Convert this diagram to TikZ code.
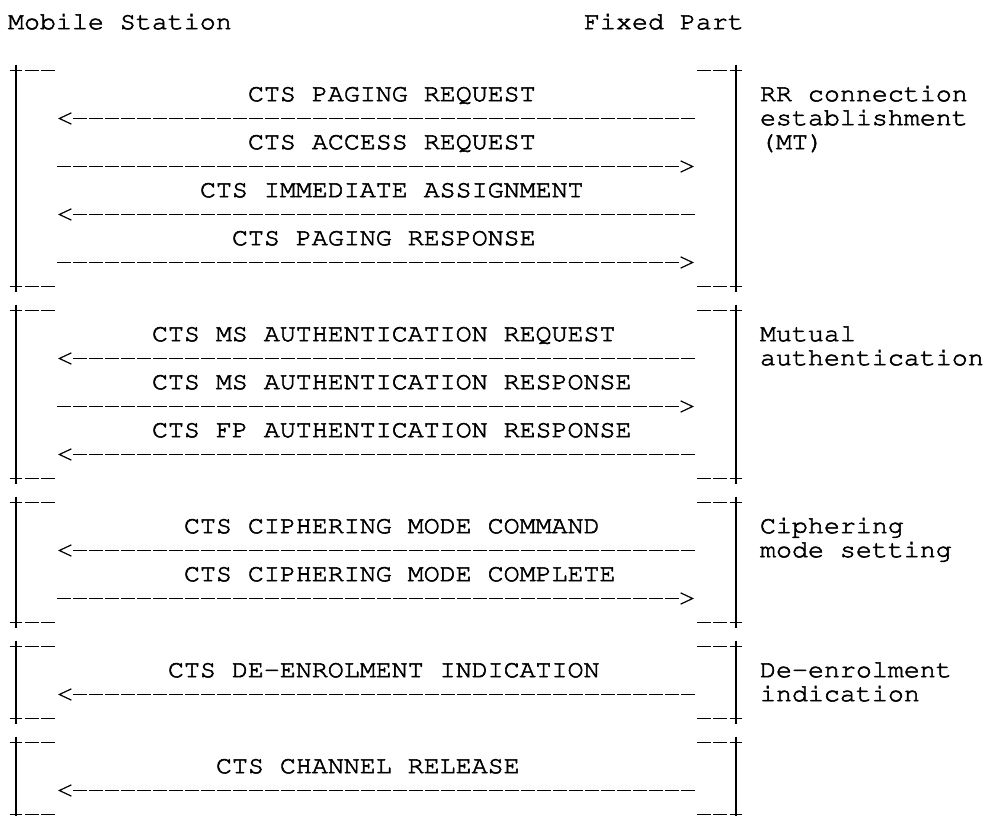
\documentclass[tikz,border=0pt]{standalone}
\usepackage[T1]{fontenc}
\usepackage{courier}
\usepackage{graphicx}
\usetikzlibrary{arrows.meta,decorations.markings}
\newcommand{\mono}[1]{\special{pdf:literal direct q 2 Tr 0.4 w}%
  \scalebox{1.08}[1]{\fontsize{18.5}{22}\selectfont\ttfamily #1}%
  \special{pdf:literal direct Q}}
\newcommand{\sidebars}[2]{%
  \draw[bar] (0.1,#1) -- (0.9,#1) (0.1,#2) -- (0.9,#2) (0.5,#1-0.24) -- (0.5,#2+0.24);
  \draw[dashbar] (1,#1) -- (3,#1) (1,#2) -- (3,#2);
  \draw[bar] (45.1,#1) -- (45.9,#1) (45.1,#2) -- (45.9,#2) (45.5,#1-0.24) -- (45.5,#2+0.24);
  \draw[dashbar] (43,#1) -- (45,#1) (43,#2) -- (45,#2);}

\begin{document}
\begin{tikzpicture}[x=12pt,y=-18pt,
    lbl/.style={anchor=base west,inner sep=0pt,outer sep=0pt},
    bar/.style={line width=1.25pt},
    dashbar/.style={line width=1.35pt,dash pattern=on 10.5pt off 1.5pt,dash phase=11.25pt},
    msg/.style={dashbar,shorten >=11pt,postaction={decorate,decoration={markings,
      mark=at position 1 with {\arrow[line width=0.9pt]{Straight Barb[length=9pt,width=8.5pt]}}}}}]
  \useasboundingbox (-0.5,0.0625) rectangle (61.25,34.0625);
  % headings
  \node[lbl] (ms) at (0,1.28) {\mono{Mobile Station}};
  \node[lbl] (fp) at (36,1.28) {\mono{Fixed Part}};
  % RR connection establishment
  \sidebars{3}{12}
  \node[lbl] (pagreq) at (15,4.28) {\mono{CTS PAGING REQUEST}};
  \coordinate (ms5) at (3.125,5); \coordinate (fp5) at (43,5);
  \draw[msg] (fp5) -- (ms5);
  \node[lbl] (accreq) at (15,6.28) {\mono{CTS ACCESS REQUEST}};
  \coordinate (ms7) at (3,7); \coordinate (fp7) at (42.875,7);
  \draw[msg] (ms7) -- (fp7);
  \node[lbl] (immass) at (12,8.28) {\mono{CTS IMMEDIATE ASSIGNMENT}};
  \coordinate (ms9) at (3.125,9); \coordinate (fp9) at (43,9);
  \draw[msg] (fp9) -- (ms9);
  \node[lbl] (pagresp) at (14,10.28) {\mono{CTS PAGING RESPONSE}};
  \coordinate (ms11) at (3,11); \coordinate (fp11) at (42.875,11);
  \draw[msg] (ms11) -- (fp11);
  \node[lbl] (rr1) at (47,4.28) {\mono{RR connection}};
  \node[lbl] (rr2) at (47,5.28) {\mono{establishment}};
  \node[lbl] (rr3) at (47,6.28) {\mono{(MT)}};
  % mutual authentication
  \sidebars{13}{20}
  \node[lbl] (authreq) at (9,14.28) {\mono{CTS MS AUTHENTICATION REQUEST}};
  \coordinate (ms15) at (3.125,15); \coordinate (fp15) at (43,15);
  \draw[msg] (fp15) -- (ms15);
  \node[lbl] (authresp) at (9,16.28) {\mono{CTS MS AUTHENTICATION RESPONSE}};
  \coordinate (ms17) at (3,17); \coordinate (fp17) at (42.875,17);
  \draw[msg] (ms17) -- (fp17);
  \node[lbl] (fpauth) at (9,18.28) {\mono{CTS FP AUTHENTICATION RESPONSE}};
  \coordinate (ms19) at (3.125,19); \coordinate (fp19) at (43,19);
  \draw[msg] (fp19) -- (ms19);
  \node[lbl] (mut1) at (47,14.28) {\mono{Mutual}};
  \node[lbl] (mut2) at (47,15.28) {\mono{authentication}};
  % ciphering mode setting
  \sidebars{21}{26}
  \node[lbl] (ciphcmd) at (11,22.28) {\mono{CTS CIPHERING MODE COMMAND}};
  \coordinate (ms23) at (3.125,23); \coordinate (fp23) at (43,23);
  \draw[msg] (fp23) -- (ms23);
  \node[lbl] (ciphcmp) at (11,24.28) {\mono{CTS CIPHERING MODE COMPLETE}};
  \coordinate (ms25) at (3,25); \coordinate (fp25) at (42.875,25);
  \draw[msg] (ms25) -- (fp25);
  \node[lbl] (ciph1) at (47,22.28) {\mono{Ciphering}};
  \node[lbl] (ciph2) at (47,23.28) {\mono{mode setting}};
  % de-enrolment indication
  \sidebars{27}{30}
  \node[lbl] (deenrol) at (10,28.28) {\mono{CTS DE-ENROLMENT INDICATION}};
  \coordinate (ms29) at (3.125,29); \coordinate (fp29) at (43,29);
  \draw[msg] (fp29) -- (ms29);
  \node[lbl] (den1) at (47,28.28) {\mono{De-enrolment}};
  \node[lbl] (den2) at (47,29.28) {\mono{indication}};
  % channel release
  \sidebars{31}{34}
  \node[lbl] (chrel) at (13,32.28) {\mono{CTS CHANNEL RELEASE}};
  \coordinate (ms33) at (3.125,33); \coordinate (fp33) at (43,33);
  \draw[msg] (fp33) -- (ms33);
\end{tikzpicture}
\end{document}
